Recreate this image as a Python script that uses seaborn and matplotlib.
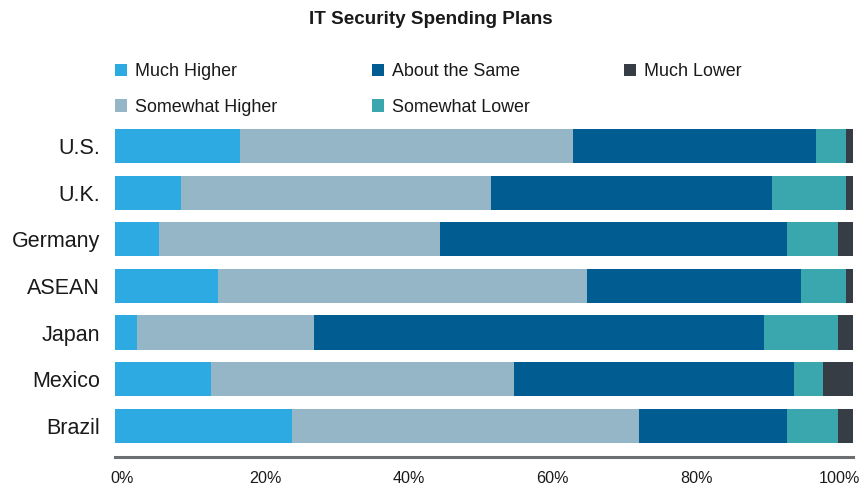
import numpy as np
import pandas as pd
import matplotlib
matplotlib.use("Agg")
import matplotlib.pyplot as plt
from matplotlib.patches import Patch
import seaborn as sns

# Survey results: share of respondents (%) per spending outlook
countries = ["U.S.", "U.K.", "Germany", "ASEAN", "Japan", "Mexico", "Brazil"]
much_higher = [17, 9, 6, 14, 3, 13, 24]
somewhat_higher = [45, 42, 38, 50, 24, 41, 47]
about_same = [33, 38, 47, 29, 61, 38, 20]
somewhat_lower = [4, 10, 7, 6, 10, 4, 7]
much_lower = [1, 1, 2, 1, 2, 4, 2]

series_names = ["Much Higher", "Somewhat Higher", "About the Same",
                "Somewhat Lower", "Much Lower"]
series_values = [much_higher, somewhat_higher, about_same,
                 somewhat_lower, much_lower]
series_colors = ["#2EAAE2", "#94B6C7", "#005C91", "#3AA6AE", "#363D44"]

tick_values = [0, 20, 40, 60, 80, 100]
tick_labels = ["0%", "20%", "40%", "60%", "80%", "100%"]

sns.set_theme(style="white")
plt.rcParams["font.family"] = ["Liberation Sans", "DejaVu Sans"]
text_color = "#1a1a1a"

df = pd.DataFrame({"country": countries})
for name, vals in zip(series_names, series_values):
    df[name] = vals
cum = df[series_names].cumsum(axis=1)

fig = plt.figure(figsize=(8.59, 4.86), dpi=100)
ax = fig.add_axes([115 / 859, 1 - 457 / 486, 738 / 859, (457 - 122.7) / 486])

# Stacked bars: draw cumulative totals from the outermost segment inwards
for name, color in reversed(list(zip(series_names, series_colors))):
    sns.barplot(x=cum[name], y=df["country"], orient="h", color=color,
                width=0.73, saturation=1, ax=ax, linewidth=0, order=countries)

ax.set_xlim(0, 100)
ax.set_ylim(6.67, -0.5)
ax.set_xlabel("")
ax.set_ylabel("")

# Percent labels sit slightly inset from the bar ends
label_pos = [0.95 + v * 0.9725 for v in tick_values]
ax.set_xticks(label_pos)
ax.set_xticklabels(tick_labels, fontsize=11.6, color=text_color)
ax.tick_params(axis="x", length=0, pad=10)
ax.tick_params(axis="y", length=0, pad=10.8, labelsize=15.5, labelcolor=text_color)

for side in ["top", "right", "left"]:
    ax.spines[side].set_visible(False)
ax.spines["bottom"].set_color("#6D6E71")
ax.spines["bottom"].set_linewidth(2.2)

fig.text(431 / 859, 1 - 19 / 486, "IT Security Spending Plans", ha="center",
         va="center", fontsize=13.6, fontweight="bold", color=text_color)

handles = [Patch(facecolor=c, edgecolor="none") for c in series_colors]
fig.legend(handles, series_names, loc="upper left",
           bbox_to_anchor=(115 / 859, 1 - 63 / 486), ncol=3, frameon=False,
           fontsize=12.9, handlelength=0.67, handleheight=0.67,
           handletextpad=0.45, columnspacing=5.27, labelspacing=1.05,
           borderpad=0, borderaxespad=0, labelcolor=text_color)

fig.savefig("out.png", dpi=100)
